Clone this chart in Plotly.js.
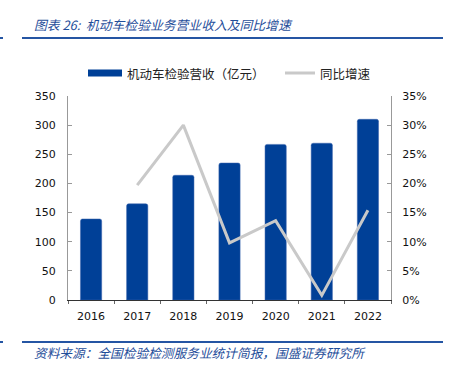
<!DOCTYPE html>
<html><head><meta charset="utf-8">
<script src="https://cdn.plot.ly/plotly-3.0.1.min.js"></script>
<style>html,body{margin:0;padding:0;background:#fff;}#c{width:449px;height:369px;}</style>
</head><body><div id="c"></div>
<script>
const years = ['2016','2017','2018','2019','2020','2021','2022'];
const revenue = [139, 165, 214, 235, 267, 269, 310];
const growthYears = ['2017','2018','2019','2020','2021','2022'];
const growth = [0.197, 0.300, 0.098, 0.136, 0.008, 0.154];
const leftTicks = [0,50,100,150,200,250,300,350];
const rightTicks = [0,0.05,0.10,0.15,0.20,0.25,0.30,0.35];
const seriesNames = ['机动车检验营收（亿元）', '同比增速'];

const L = 68, T = 96, W = 323, H = 204;
const px = v => (v - L) / W;
const py = v => (T + H - v) / H;

const font = {family:'DejaVu Sans, Verdana, sans-serif', size:11, color:'#111'};
const cjk = 'Noto Sans CJK SC, sans-serif';
const barColor = '#004097', lineColor = '#c9c9c9', blue = '#2555a3';
const traces = [
  {type:'bar', x:years, y:revenue, name:seriesNames[0], marker:{color:barColor, cornerradius:2, line:{color:'#3a63ad', width:0.5}}, width:0.46},
  {type:'scatter', mode:'lines', x:growthYears, y:growth, yaxis:'y2', name:seriesNames[1], line:{color:lineColor, width:3}}
];
const layout = {
  width:449, height:369, margin:{l:L, r:449-L-W, t:T, b:369-T-H},
  paper_bgcolor:'#fff', plot_bgcolor:'#fff', font:font, showlegend:false,
  xaxis:{type:'category', showline:true, linecolor:'#333', linewidth:1, ticks:'outside', tickson:'boundaries', ticklen:3, tickcolor:'#666', showgrid:false, tickfont:{size:11}, ticklabelstandoff:6},
  yaxis:{range:[0,350], tickvals:leftTicks, showline:true, linecolor:'#999', ticks:'inside', ticklen:4, tickcolor:'#999', showgrid:false, zeroline:false, tickfont:{size:11}, ticklabelstandoff:9},
  yaxis2:{range:[0,0.35], overlaying:'y', side:'right', tickvals:rightTicks, tickformat:'.0%', showline:true, linecolor:'#999', ticks:'inside', ticklen:4, tickcolor:'#999', showgrid:false, zeroline:false, tickfont:{size:11}, ticklabelstandoff:8},
  shapes:[
    {type:'line', xref:'paper', yref:'paper', x0:px(0), x1:px(3), y0:py(38), y1:py(38), line:{color:blue, width:2}},
    {type:'line', xref:'paper', yref:'paper', x0:px(22), x1:px(443), y0:py(38), y1:py(38), line:{color:blue, width:2}},
    {type:'line', xref:'paper', yref:'paper', x0:px(0), x1:px(3), y0:py(342), y1:py(342), line:{color:blue, width:2}},
    {type:'line', xref:'paper', yref:'paper', x0:px(22), x1:px(443), y0:py(342), y1:py(342), line:{color:blue, width:2}},
    {type:'rect', xref:'paper', yref:'paper', x0:px(88), x1:px(122), y0:py(76.5), y1:py(69.5), fillcolor:barColor, line:{width:0}},
    {type:'line', xref:'paper', yref:'paper', x0:px(285), x1:px(315), y0:py(73), y1:py(73), line:{color:lineColor, width:3}}
  ],
  annotations:[
    {xref:'paper', yref:'paper', x:px(32), y:py(25), xanchor:'left', yanchor:'middle', showarrow:false, text:'<i>图表 26:  机动车检验业务营业收入及同比增速</i>', font:{family:cjk, size:12.8, color:'#1f4e9a'}},
    {xref:'paper', yref:'paper', x:px(32), y:py(352), xanchor:'left', yanchor:'middle', showarrow:false, text:'<i>资料来源：全国检验检测服务业统计简报，国盛证券研究所</i>', font:{family:cjk, size:12.7, color:'#1f4e9a'}},
    {xref:'paper', yref:'paper', x:px(125), y:py(73), xanchor:'left', yanchor:'middle', showarrow:false, text:seriesNames[0], font:{family:cjk, size:12.5, color:'#222'}},
    {xref:'paper', yref:'paper', x:px(318), y:py(73), xanchor:'left', yanchor:'middle', showarrow:false, text:seriesNames[1], font:{family:cjk, size:12.5, color:'#222'}}
  ]
};
Plotly.newPlot('c', traces, layout, {displayModeBar:false, staticPlot:true});
</script></body></html>
